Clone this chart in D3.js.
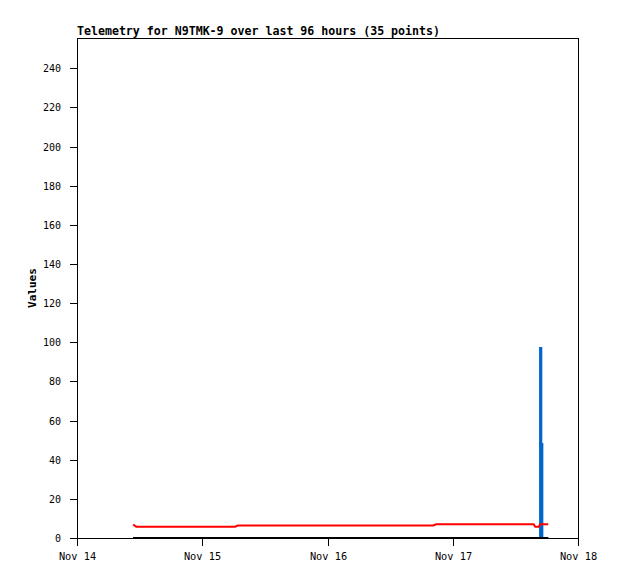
<!DOCTYPE html>
<html><head><meta charset="utf-8">
<script src="https://cdn.jsdelivr.net/npm/d3@7"></script>
<style>body{margin:0;background:#fff}svg{display:block}</style>
</head><body>
<script>
const title = "Telemetry for N9TMK-9 over last 96 hours (35 points)";
const yLabel = "Values";
// hours since Nov 14 00:00
const hours = [10.75,11.35,14,17,20,23,26,30.3,30.8,34,37,40,43,46,49,52,55,58,61,64,68.3,68.8,72,75,78,81,84,87.5,87.8,88.5,88.75,88.95,89.15,89.7,90.3];
const redVals = [6.9,5.8,5.8,5.8,5.8,5.8,5.8,5.8,6.4,6.4,6.4,6.4,6.4,6.4,6.4,6.4,6.4,6.4,6.4,6.4,6.4,7.0,7.0,7.0,7.0,7.0,7.0,7.0,5.8,5.8,7.0,7.0,7.0,7.0,7.0];
const blueVals = [0,0,0,0,0,0,0,0,0,0,0,0,0,0,0,0,0,0,0,0,0,0,0,0,0,0,0,0,0,0,97,48,0,0,0];
const blackVals = [0,0,0,0,0,0,0,0,0,0,0,0,0,0,0,0,0,0,0,0,0,0,0,0,0,0,0,0,0,0,0,0,0,0,0];
const xTickLabels = ["Nov 14","Nov 15","Nov 16","Nov 17","Nov 18"];
const yTicks = [0,20,40,60,80,100,120,140,160,180,200,220,240];

const W=618,H=579, L=77,R=578,T=38,B=538;
const t0 = new Date(2024,10,14,0,0,0);
const times = hours.map(h=>new Date(t0.getTime()+h*3600e3));
const x = d3.scaleTime().domain([t0, new Date(t0.getTime()+96*3600e3)]).range([L,R]);
const y = d3.scaleLinear().domain([0,255.5]).range([B,T]);

const svg = d3.select("body").append("svg").attr("width",W).attr("height",H);
svg.append("rect").attr("width",W).attr("height",H).attr("fill","#fff");

svg.append("text").attr("x",L).attr("y",35).text(title)
  .attr("font-family","DejaVu Sans Mono").attr("font-weight","bold").attr("font-size","11.6px");

// frame
svg.append("rect").attr("x",L+0.5).attr("y",T+0.5).attr("width",R-L).attr("height",B-T)
  .attr("fill","none").attr("stroke","#000");

// y axis
const yg = svg.append("g");
yTicks.forEach(v=>{
  const yy = Math.round(y(v))+0.5;
  yg.append("line").attr("x1",L-7).attr("x2",L).attr("y1",yy).attr("y2",yy).attr("stroke","#000");
  yg.append("text").attr("x",61).attr("y",yy).attr("dy","0.35em").attr("text-anchor","end")
    .text(v).attr("font-family","DejaVu Sans Mono").attr("font-size","10px");
});
// x axis
const xt = xTickLabels.map((s,i)=>new Date(t0.getTime()+i*24*3600e3));
xt.forEach((d,i)=>{
  const xx = Math.round(x(d))+0.5;
  svg.append("line").attr("x1",xx).attr("x2",xx).attr("y1",B).attr("y2",B+8).attr("stroke","#000");
  svg.append("text").attr("x",xx).attr("y",560).attr("text-anchor","middle").text(xTickLabels[i])
    .attr("font-family","DejaVu Sans Mono").attr("font-size","10.3px");
});
svg.append("text").attr("transform",`translate(36,${(T+B)/2}) rotate(-90)`).attr("text-anchor","middle")
  .text(yLabel).attr("font-family","DejaVu Sans Mono").attr("font-weight","bold").attr("font-size","11px");

const line = (vals,curve) => d3.line().curve(curve||d3.curveLinear).x((d,i)=>x(times[i])).y(d=>y(d))(vals);
svg.append("path").attr("d",line(blueVals,d3.curveStepAfter)).attr("fill","none").attr("stroke","#0066cc").attr("stroke-width",2.2);
svg.append("path").attr("d",line(redVals)).attr("fill","none").attr("stroke","#ff0000").attr("stroke-width",2);
svg.append("path").attr("d",line(blackVals)).attr("fill","none").attr("stroke","#000").attr("stroke-width",2);
</script>
</body></html>
